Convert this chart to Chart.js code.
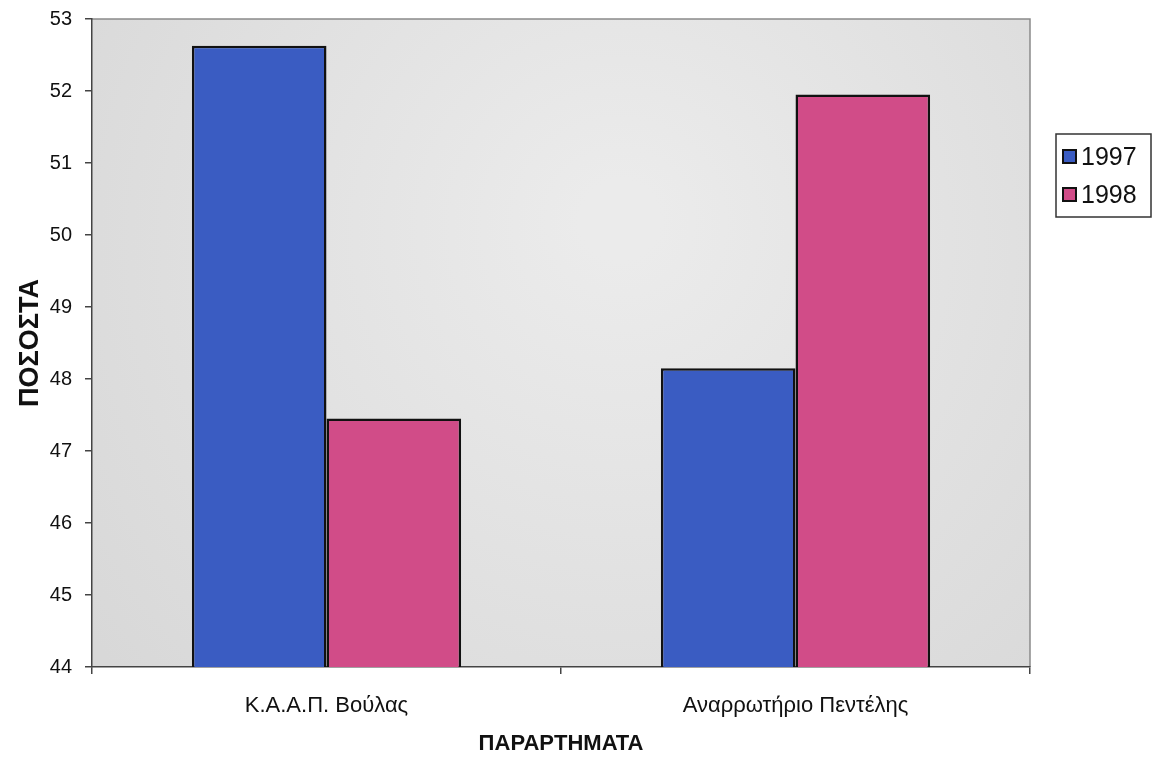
<!DOCTYPE html>
<html>
<head>
<meta charset="utf-8">
<script src="https://cdn.jsdelivr.net/npm/chart.js@4/dist/chart.umd.min.js"></script>
<style>
  html, body { margin: 0; padding: 0; background: #fff; }
  #wrap { width: 1152px; height: 757px; }
</style>
</head>
<body>
<div id="wrap"><canvas id="chart1" width="1152" height="757"></canvas></div>
<script>
var categories = ['Κ.Α.Α.Π. Βούλας', 'Αναρρωτήριο Πεντέλης'];
var values1997 = [52.63, 48.15];
var values1998 = [47.45, 51.95];
var yTicks = [44, 45, 46, 47, 48, 49, 50, 51, 52, 53];

// plot area background + frame
var plotBg = {
    id: 'plotBg',
    beforeDraw: function(chart) {
        var a = chart.chartArea, c = chart.ctx;
        c.save();
        var g = c.createRadialGradient(620, 220, 40, 620, 260, 650);
        g.addColorStop(0, '#ebebeb');
        g.addColorStop(1, '#d8d8d8');
        c.fillStyle = g;
        c.fillRect(a.left, a.top, a.right - a.left, a.bottom - a.top);
        c.strokeStyle = '#8a8a8a';
        c.lineWidth = 1.5;
        c.beginPath();
        c.moveTo(a.left, a.top);
        c.lineTo(a.right, a.top);
        c.lineTo(a.right, a.bottom);
        c.stroke();
        c.restore();
    }
};

// bordered legend at the right
var boxLegend = {
    id: 'boxLegend',
    afterDraw: function(chart) {
        var c = chart.ctx;
        var x = 1056, y = 134, w = 95, h = 83;
        c.save();
        c.fillStyle = '#fff';
        c.fillRect(x, y, w, h);
        c.strokeStyle = '#333';
        c.lineWidth = 1.5;
        c.strokeRect(x, y, w, h);
        c.font = '25px "Liberation Sans", Arial, sans-serif';
        c.textBaseline = 'middle';
        chart.data.datasets.forEach(function(ds, i) {
            var cy = y + 22 + i * 38;
            c.fillStyle = ds.backgroundColor;
            c.fillRect(x + 7, cy - 6, 13, 13);
            c.strokeStyle = '#111';
            c.lineWidth = 2;
            c.strokeRect(x + 7, cy - 6, 13, 13);
            c.fillStyle = '#111';
            c.fillText(ds.label, x + 25, cy + 2);
        });
        c.restore();
    }
};

var ctx = document.getElementById('chart1').getContext('2d');
var myChart = new Chart(ctx, {
    type: 'bar',
    data: {
        labels: categories,
        datasets: [{
            label: '1997',
            data: values1997,
            backgroundColor: 'rgb(58, 92, 194)',
            borderColor: 'rgb(17, 17, 17)',
            borderWidth: 2.5,
            categoryPercentage: 0.574,
            barPercentage: 1
        },
        {
            label: '1998',
            data: values1998,
            backgroundColor: 'rgb(209, 76, 136)',
            borderColor: 'rgb(17, 17, 17)',
            borderWidth: 2.5,
            categoryPercentage: 0.574,
            barPercentage: 1
        }]
    },
    options: {
        responsive: false,
        animation: false,
        layout: { padding: { left: 0, right: 122, top: 19, bottom: 0 } },
        plugins: {
            legend: { display: false },
            tooltip: { enabled: false }
        },
        scales: {
            x: {
                grid: { offset: true, drawOnChartArea: false, drawTicks: true, tickLength: 7, color: '#444', lineWidth: 1.5 },
                border: { display: true, color: '#444', width: 1.5 },
                ticks: { color: '#111', padding: 19, font: { family: '"Liberation Sans", Arial, sans-serif', size: 22 } },
                title: { display: true, text: 'ΠΑΡΑΡΤΗΜΑΤΑ', color: '#111', padding: { top: 0, bottom: 0 },
                         font: { family: '"Liberation Sans", Arial, sans-serif', size: 22, weight: 'bold' } },
                afterFit: function(s) { s.height = 90; s.paddingLeft = 0; s.paddingRight = 0; }
            },
            y: {
                min: yTicks[0],
                max: yTicks[yTicks.length - 1],
                afterBuildTicks: function(s) { s.ticks = yTicks.map(function(v) { return { value: v }; }); },
                grid: { drawOnChartArea: false, drawTicks: true, tickLength: 7, color: '#444', lineWidth: 1.5 },
                border: { display: true, color: '#444', width: 1.5 },
                ticks: { color: '#111', padding: 13, font: { family: '"Liberation Sans", Arial, sans-serif', size: 20 } },
                title: { display: true, text: 'ΠΟΣΟΣΤΑ', color: '#111', padding: { top: 14, bottom: 0 },
                         font: { family: '"Liberation Sans", Arial, sans-serif', size: 27, weight: 'bold' } },
                afterFit: function(s) { s.width = 92; s.paddingTop = 0; s.paddingBottom = 0; }
            }
        }
    },
    plugins: [plotBg, boxLegend]
});
</script>
</body>
</html>
